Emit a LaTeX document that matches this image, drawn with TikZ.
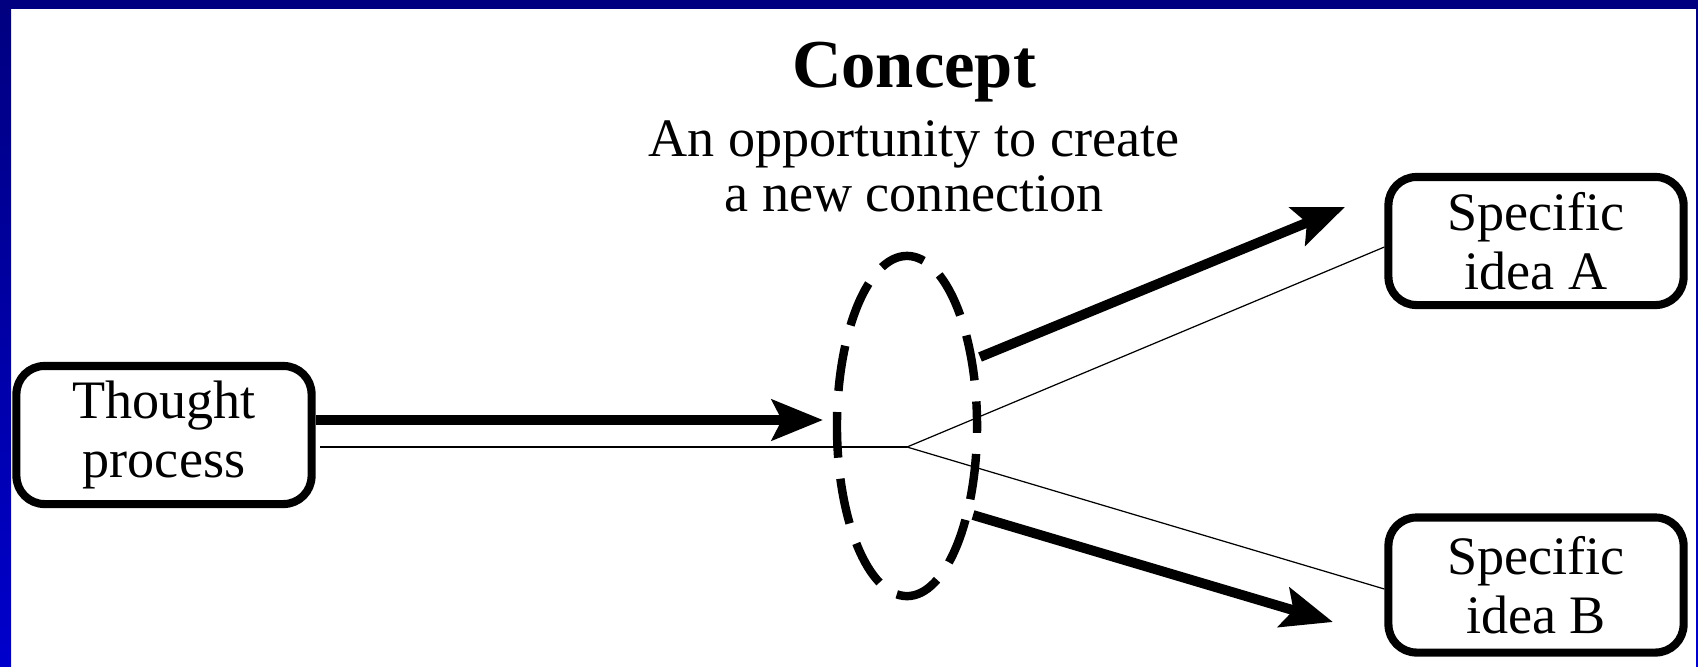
\documentclass[tikz,border=0pt]{standalone}
\usepackage{fontspec}
\setmainfont{Liberation Serif}
\usetikzlibrary{arrows.meta,shapes.geometric,calc}
\definecolor{navy}{HTML}{000080}
\definecolor{brightnavy}{HTML}{0000CC}
\begin{document}
\begin{tikzpicture}[x=0.01cm,y=-0.01cm,
  box/.style={draw, line width=2.3pt, rounded corners=8pt, minimum width=2.95cm,
    minimum height=1.33cm, align=center, inner sep=0pt,
    font=\fontsize{15.4pt}{16.6pt}\selectfont},
  hubshape/.style={draw, ellipse, line width=2.4pt, minimum width=1.4cm,
    minimum height=3.4cm, inner sep=0pt, dash pattern=on 13pt off 6pt, dash phase=6pt},
  bigarrow/.style={line width=2.8pt, -{Stealth[length=14.5pt, width=11.5pt, inset=2.8pt]}},
  thinline/.style={line width=0.35pt}]
\useasboundingbox (0,0) rectangle (1698,666);
\fill[white] (0,0) rectangle (1698,666);
\shade[top color=navy, bottom color=brightnavy] (0,0) rectangle (11,666);
\shade[top color=navy, bottom color=brightnavy] (1696,0) rectangle (1698,666);
\fill[navy] (0,0) rectangle (1698,9);

\node[font=\bfseries\fontsize{19.5pt}{22pt}\selectfont, anchor=base, inner sep=0pt] (title) at (914,87) {Concept};
\node[font=\fontsize{15.4pt}{15.65pt}\selectfont, align=center, anchor=north, inner sep=0pt] (sub) at (914,120) {An opportunity to create\\a new connection};

\node[box, minimum height=1.38cm] (T) at (164,435) {Thought\\process};
\node[box, minimum height=1.28cm] (A) at (1536,241) {Specific\\idea A};
\node[box, minimum height=1.35cm] (B) at (1536,585) {Specific\\idea B};
\node[hubshape] (hub) at (907,426) {};

\coordinate (apex) at (907,447);
\coordinate (t1) at (823,420);
\coordinate (u0) at (980,357);
\coordinate (u1) at (1345,207);
\coordinate (d0) at (973,515);
\coordinate (d1) at (1333,622);

\draw[thinline] ([xshift=1.2pt]T.east |- apex) -- (apex);
\draw[thinline] (apex) -- ($(A.west)+(0,6)$);
\draw[thinline] (apex) -- ($(B.west)+(0,4)$);
\draw[bigarrow] (T.east |- t1) -- (t1);
\draw[bigarrow] (u0) -- (u1);
\draw[bigarrow] (d0) -- (d1);
\end{tikzpicture}
\end{document}
